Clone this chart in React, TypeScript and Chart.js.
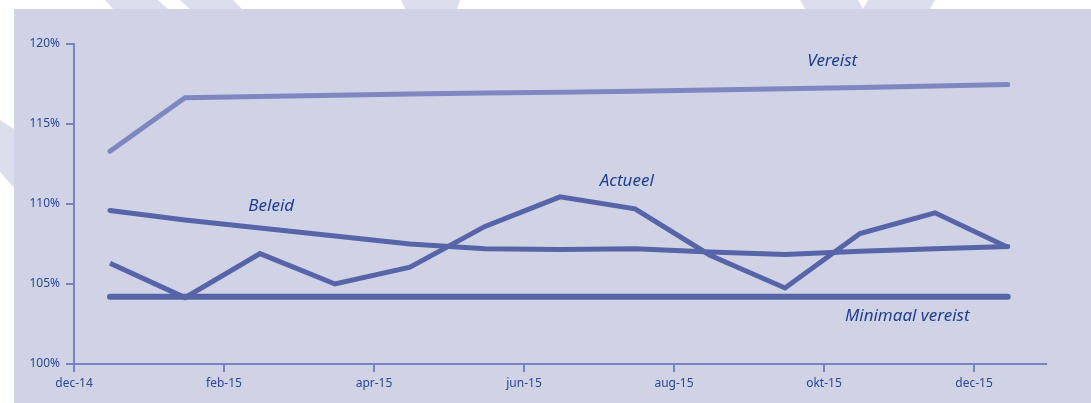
import React, { useEffect, useRef } from "react";
import { Chart, registerables } from "chart.js";

Chart.register(...registerables);

// Point positions in months after dec-14 (mid-month)
const pointMonths = [0.48, 1.48, 2.48, 3.48, 4.48, 5.48, 6.48, 7.48, 8.48, 9.48, 10.48, 11.48, 12.45];
const actueel = [106.3, 104.15, 106.9, 105.0, 106.05, 108.6, 110.45, 109.7, 106.8, 104.75, 108.15, 109.45, 107.3];
const beleid = [109.6, 109.0, 108.5, 108.0, 107.5, 107.2, 107.15, 107.2, 107.0, 106.85, 107.05, 107.2, 107.35];
const vereist = [113.3, 116.64, 116.72, 116.8, 116.87, 116.93, 116.99, 117.05, 117.12, 117.2, 117.28, 117.37, 117.47];
const minimaal = [104.2, 104.2, 104.2, 104.2, 104.2, 104.2, 104.2, 104.2, 104.2, 104.2, 104.2, 104.2, 104.2];

const xTickValues = [0, 2, 4, 6, 8, 10, 12];
const xTickLabels = ["dec-14", "feb-15", "apr-15", "jun-15", "aug-15", "okt-15", "dec-15"];

const seriesNames = ["Vereist", "Beleid", "Actueel", "Minimaal vereist"];
const labelMonths = [10.11, 2.63, 7.37, 11.11];
const labelValues = [118.61, 109.55, 111.11, 102.66];

const PANEL = "#d0d2e6";
const DECO = "#dcdeee";
const LINE = "#5864a8";
const LINE_LIGHT = "#7f87c1";
const AXIS = "#7b82c2";
const TEXT = "#1f3f8f";
const TICK_TEXT = "#2b4796";

const backgroundPlugin = {
  id: "bgDeco",
  beforeDraw(chart: any) {
    const ctx = chart.ctx;
    const w = chart.width;
    const h = chart.height;
    ctx.save();
    ctx.fillStyle = "#ffffff";
    ctx.fillRect(0, 0, w, h);
    ctx.fillStyle = DECO;
    const polys = [
      [[105, 0], [158, 0], [168, 9], [113, 9]],
      [[180, 0], [233, 0], [242, 9], [190, 9]],
      [[401, 0], [460, 0], [457, 9], [405, 9]],
      [[800, 0], [858, 0], [863, 9], [805, 9]],
      [[868, 0], [935, 0], [930, 9], [863, 9]],
      [[0, 120], [14, 129], [14, 188], [0, 172]],
    ];
    for (const p of polys) {
      ctx.beginPath();
      ctx.moveTo(p[0][0], p[0][1]);
      for (let i = 1; i < p.length; i++) ctx.lineTo(p[i][0], p[i][1]);
      ctx.closePath();
      ctx.fill();
    }
    ctx.fillStyle = PANEL;
    ctx.fillRect(14, 9, w - 14, h - 9);
    ctx.restore();
  },
};

const labelPlugin = {
  id: "seriesLabels",
  afterDatasetsDraw(chart: any) {
    const ctx = chart.ctx;
    const xs = chart.scales.x;
    const ys = chart.scales.y;
    ctx.save();
    ctx.fillStyle = TEXT;
    ctx.font = "italic 17px 'Noto Sans'";
    ctx.textAlign = "center";
    ctx.textBaseline = "alphabetic";
    seriesNames.forEach((name, i) => {
      ctx.fillText(name, xs.getPixelForValue(labelMonths[i]), ys.getPixelForValue(labelValues[i]));
    });
    ctx.restore();
  },
};

function toPoints(values: number[]) {
  return values.map((v, i) => ({ x: pointMonths[i], y: v }));
}

export default function App() {
  const canvasRef = useRef<HTMLCanvasElement | null>(null);

  useEffect(() => {
    if (!canvasRef.current) return;
    const common = {
      pointRadius: 0,
      pointHoverRadius: 0,
      tension: 0,
      fill: false,
      borderJoinStyle: "miter" as const,
    };
    const chart = new Chart(canvasRef.current, {
      type: "line",
      data: {
        datasets: [
          { ...common, label: "Vereist", data: toPoints(vereist), borderColor: LINE_LIGHT, borderWidth: 5, borderCapStyle: "round" },
          { ...common, label: "Beleid", data: toPoints(beleid), borderColor: LINE, borderWidth: 5, borderCapStyle: "round" },
          { ...common, label: "Actueel", data: toPoints(actueel), borderColor: LINE, borderWidth: 5, borderCapStyle: "butt" },
          { ...common, label: "Minimaal vereist", data: toPoints(minimaal), borderColor: LINE, borderWidth: 6, borderCapStyle: "round" },
        ],
      },
      options: {
        animation: false,
        responsive: false,
        events: [],
        layout: { padding: { left: 0, top: 44, right: 45, bottom: 0 } },
        plugins: {
          legend: { display: false },
          tooltip: { enabled: false },
          title: { display: false },
        },
        scales: {
          x: {
            type: "linear",
            min: 0,
            max: 12.96,
            afterFit: (scale: any) => {
              scale.height = 39;
            },
            afterBuildTicks: (scale: any) => {
              scale.ticks = xTickValues.map((v) => ({ value: v }));
            },
            ticks: {
              autoSkip: false,
              maxRotation: 0,
              padding: 4,
              color: TICK_TEXT,
              font: { family: "'Noto Sans'", size: 12 },
              callback: (value: any) => {
                const idx = xTickValues.indexOf(Number(value));
                return idx >= 0 ? xTickLabels[idx] : "";
              },
            },
            grid: { display: true, drawOnChartArea: false, drawTicks: true, tickLength: 8, color: AXIS, lineWidth: 2 },
            border: { display: true, color: AXIS, width: 2 },
          },
          y: {
            type: "linear",
            min: 100,
            max: 120,
            afterFit: (scale: any) => {
              scale.width = 74;
            },
            ticks: {
              stepSize: 5,
              padding: 6,
              color: TICK_TEXT,
              font: { family: "'Noto Sans'", size: 12 },
              callback: (value: any) => `${value}%`,
            },
            grid: { display: true, drawOnChartArea: false, drawTicks: true, tickLength: 8, color: AXIS, lineWidth: 2 },
            border: { display: true, color: AXIS, width: 2 },
          },
        },
      },
      plugins: [backgroundPlugin, labelPlugin],
    });
    return () => chart.destroy();
  }, []);

  return (
    <div style={{ position: "fixed", left: 0, top: 0, width: 1091, height: 403 }}>
      <canvas ref={canvasRef} width={1091} height={403} style={{ display: "block", width: 1091, height: 403 }} />
    </div>
  );
}
